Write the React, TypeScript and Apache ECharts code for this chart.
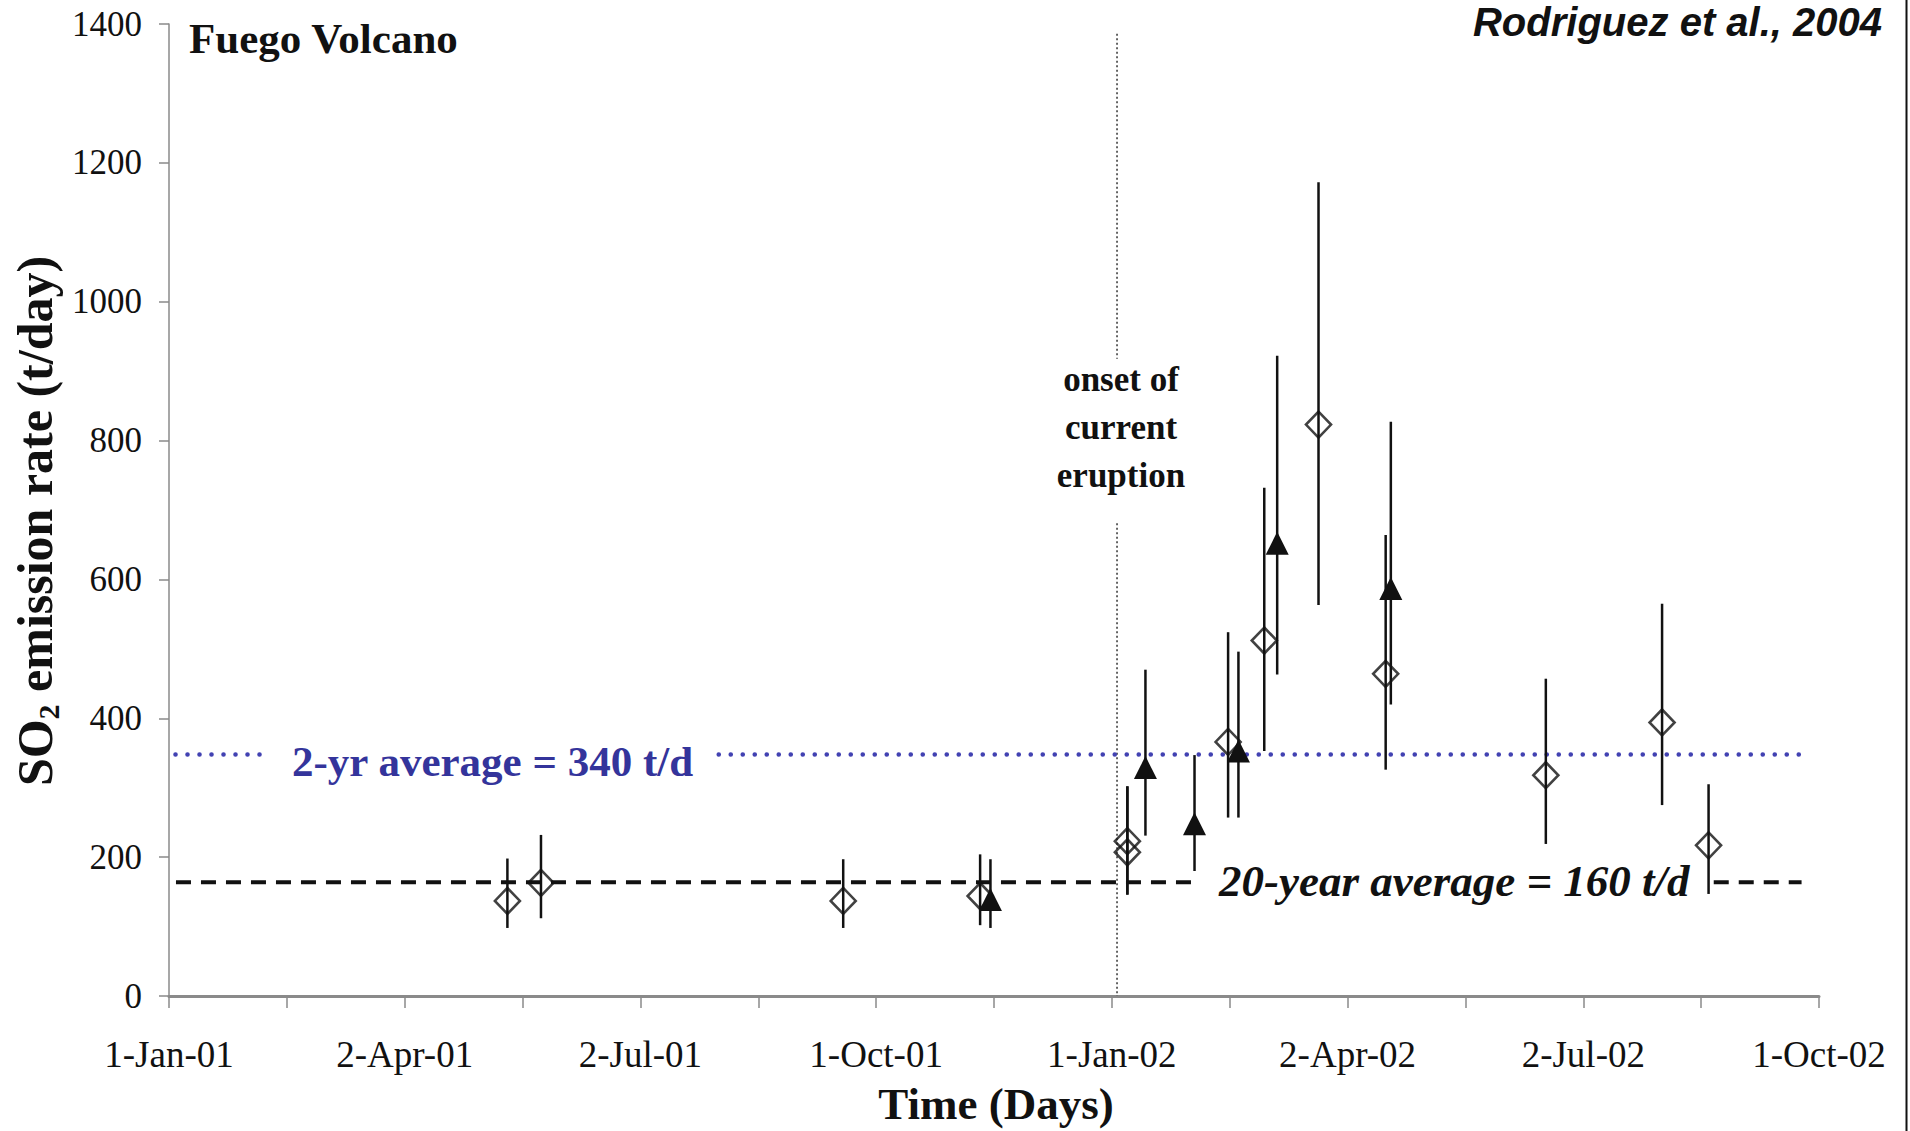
import React, { useEffect, useRef } from "react";
import * as echarts from "echarts";

// ---------- data ----------
const START = Date.UTC(2001, 0, 1);
const DAY = 86400000;
const dayOf = (s: string) => {
  const [y, m, d] = s.split("-").map(Number);
  return (Date.UTC(y, m - 1, d) - START) / DAY;
};

const xTickLabels = ["1-Jan-01", "2-Apr-01", "2-Jul-01", "1-Oct-01", "1-Jan-02", "2-Apr-02", "2-Jul-02", "1-Oct-02"];
const xTickStepDays = 91.25;

const diamondDates = ["2001-05-12", "2001-05-25", "2001-09-19", "2001-11-11", "2002-01-07", "2002-01-07", "2002-02-15", "2002-03-01", "2002-03-22", "2002-04-17", "2002-06-18", "2002-08-02", "2002-08-20"];
const diamondValues = [137, 163, 137, 144, 223, 207, 366, 512, 823, 464, 318, 394, 217];
const diamondLow = [98, 112, 98, 102, 146, 146, 257, 353, 563, 326, 219, 275, 147];
const diamondHigh = [198, 232, 197, 204, 302, 302, 524, 732, 1172, 664, 457, 565, 305];

const triangleDates = ["2001-11-15", "2002-01-14", "2002-02-02", "2002-02-19", "2002-03-06", "2002-04-19"];
const triangleValues = [139, 329, 248, 353, 652, 587];
const triangleLow = [98, 231, 180, 257, 463, 420];
const triangleHigh = [197, 470, 347, 496, 922, 827];

const twoYearAvgLevel = 348;
const twoYearAvgSpans = [[2.5, 36.3], [212.8, 632]];
const twentyYearAvgLevel = 164;
const twentyYearAvgSpans = [[2.7, 397], [598, 632]];
const onsetDate = "2002-01-03";
const onsetSpans = [[1386, 918], [681, 0]];

// ---------- styles ----------
const SERIF = '"Liberation Serif", "Times New Roman", serif';
const SANS = '"Liberation Sans", Arial, sans-serif';
const INK = "#111111";
const BLUE_TEXT = "#34349b";
const BLUE_DOT = "#4242b2";
const AXIS_GRAY = "#8a8a8a";

const segRender = (stroke: string, lineWidth: number, lineDash: number[], lineCap: string) =>
  (params: any, api: any) => {
    const a = api.coord([api.value(0), api.value(1)]);
    const b = api.coord([api.value(2), api.value(3)]);
    return {
      type: "line",
      shape: { x1: a[0], y1: a[1], x2: b[0], y2: b[1] },
      style: { stroke, lineWidth, lineDash, lineCap, fill: null },
    };
  };

export default function App() {
  const ref = useRef<HTMLDivElement>(null);

  useEffect(() => {
    if (!ref.current) return;
    const chart = echarts.init(ref.current, null, { renderer: "svg" });

    const diamonds = diamondDates.map((d, i) => [dayOf(d), diamondValues[i]]);
    const triangles = triangleDates.map((d, i) => [dayOf(d), triangleValues[i]]);
    const errorBars = [
      ...diamondDates.map((d, i) => [dayOf(d), diamondLow[i], diamondHigh[i]]),
      ...triangleDates.map((d, i) => [dayOf(d), triangleLow[i], triangleHigh[i]]),
    ];
    const twoYearSegs = twoYearAvgSpans.map(([a, b]) => [a, twoYearAvgLevel, b, twoYearAvgLevel]);
    const twentyYearSegs = twentyYearAvgSpans.map(([a, b]) => [a, twentyYearAvgLevel, b, twentyYearAvgLevel]);
    const od = dayOf(onsetDate);
    const onsetSegs = onsetSpans.map(([a, b]) => [od, a, od, b]);

    chart.setOption({
      animation: false,
      backgroundColor: "#ffffff",
      grid: { left: 169, right: 91, top: 24, bottom: 135, containLabel: false },
      xAxis: {
        type: "value",
        min: 0,
        max: xTickStepDays * (xTickLabels.length - 1),
        interval: xTickStepDays,
        splitLine: { show: false },
        axisLine: { show: true, lineStyle: { color: AXIS_GRAY, width: 3 } },
        axisTick: { show: true, length: 12, lineStyle: { color: AXIS_GRAY, width: 1.5 } },
        minorTick: { show: true, splitNumber: 2, length: 12, lineStyle: { color: AXIS_GRAY, width: 1.5 } },
        axisLabel: {
          formatter: (v: number) => xTickLabels[Math.round(v / xTickStepDays)] ?? "",
          fontFamily: SERIF,
          fontSize: 37,
          color: INK,
          margin: 40,
          showMinLabel: true,
          showMaxLabel: true,
        },
      },
      yAxis: {
        type: "value",
        min: 0,
        max: 1400,
        interval: 200,
        splitLine: { show: false },
        axisLine: { show: true, lineStyle: { color: AXIS_GRAY, width: 1.5 } },
        axisTick: { show: true, length: 10, lineStyle: { color: AXIS_GRAY, width: 1.5 } },
        axisLabel: { fontFamily: SERIF, fontSize: 35, color: INK, margin: 27, formatter: (v: number) => String(v) },
      },
      series: [
        {
          type: "custom",
          name: "onset",
          encode: { x: [0, 2], y: [1, 3] },
          renderItem: segRender("#333333", 1.5, [2, 2.5], "butt"),
          data: onsetSegs,
          silent: true,
          z: 1,
        },
        {
          type: "custom",
          name: "2-yr average",
          encode: { x: [0, 2], y: [1, 3] },
          renderItem: segRender(BLUE_DOT, 4.5, [0.1, 11.9], "round"),
          data: twoYearSegs,
          silent: true,
          z: 2,
        },
        {
          type: "custom",
          name: "20-year average",
          encode: { x: [0, 2], y: [1, 3] },
          renderItem: segRender(INK, 4, [15, 10], "butt"),
          data: twentyYearSegs,
          silent: true,
          z: 2,
        },
        {
          type: "custom",
          name: "error bars",
          encode: { x: 0, y: [1, 2] },
          renderItem: (params: any, api: any) => {
            const x = api.value(0);
            const p1 = api.coord([x, api.value(1)]);
            const p2 = api.coord([x, api.value(2)]);
            return {
              type: "line",
              shape: { x1: p1[0], y1: p1[1], x2: p2[0], y2: p2[1] },
              style: { stroke: INK, lineWidth: 2.5 },
            };
          },
          data: errorBars,
          silent: true,
          z: 3,
        },
        {
          type: "scatter",
          name: "diamonds",
          symbol: "diamond",
          symbolSize: [25, 26],
          itemStyle: { color: "rgba(0,0,0,0)", borderColor: INK, borderWidth: 2.6 },
          data: diamonds,
          silent: true,
          z: 4,
        },
        {
          type: "scatter",
          name: "triangles",
          symbol: "triangle",
          symbolSize: [23, 23],
          itemStyle: { color: INK, opacity: 1 },
          data: triangles,
          silent: true,
          z: 5,
        },
      ],
      graphic: [
        {
          type: "text",
          x: 189,
          y: 38,
          style: { text: "Fuego Volcano", fontFamily: SERIF, fontWeight: "bold", fontSize: 43, fill: INK, align: "left", verticalAlign: "middle" },
        },
        {
          type: "text",
          x: 1882,
          y: 2,
          style: { text: "Rodriguez et al., 2004", fontFamily: SANS, fontWeight: "bold", fontStyle: "italic", fontSize: 40, fill: INK, align: "right", verticalAlign: "top" },
        },
        {
          type: "text",
          x: 292,
          y: 761,
          style: { text: "2-yr average = 340 t/d", fontFamily: SERIF, fontWeight: "bold", fontSize: 43, fill: BLUE_TEXT, align: "left", verticalAlign: "middle" },
        },
        {
          type: "text",
          x: 1219,
          y: 881,
          style: { text: "20-year average = 160 t/d", fontFamily: SERIF, fontWeight: "bold", fontStyle: "italic", fontSize: 45, fill: INK, align: "left", verticalAlign: "middle" },
        },
        {
          type: "text",
          x: 1121,
          y: 427,
          style: { text: "onset of\ncurrent\neruption", fontFamily: SERIF, fontWeight: "bold", fontSize: 35, lineHeight: 48, fill: INK, align: "center", verticalAlign: "middle" },
        },
        {
          type: "text",
          x: 996,
          y: 1104,
          style: { text: "Time (Days)", fontFamily: SERIF, fontWeight: "bold", fontSize: 45, fill: INK, align: "center", verticalAlign: "middle" },
        },
        {
          type: "text",
          x: 35,
          y: 521,
          rotation: Math.PI / 2,
          style: {
            text: "{a|SO}{s|2}{a| emission rate (t/day)}",
            align: "center",
            verticalAlign: "middle",
            rich: {
              a: { fontFamily: SERIF, fontWeight: "bold", fontSize: 50, lineHeight: 56, fill: INK },
              s: { fontFamily: SERIF, fontWeight: "bold", fontSize: 30, lineHeight: 30, fill: INK, verticalAlign: "bottom" },
            },
          },
        },
        {
          type: "line",
          shape: { x1: 1906.5, y1: 0, x2: 1906.5, y2: 1131 },
          style: { stroke: INK, lineWidth: 2 },
        },
      ],
    });

    return () => chart.dispose();
  }, []);

  return (
    <div
      ref={ref}
      style={{ position: "absolute", left: 0, top: 0, width: 1910, height: 1131, background: "#fff" }}
    />
  );
}
